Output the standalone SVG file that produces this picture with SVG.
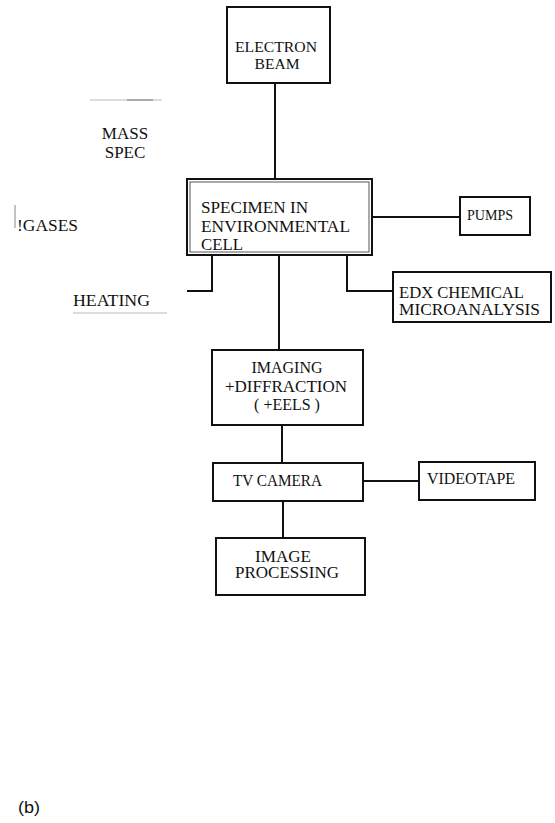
<svg xmlns="http://www.w3.org/2000/svg" width="555" height="823" viewBox="0 0 555 823">
<style>
.box{fill:#fff;stroke:#111;stroke-width:2}
.ln{fill:none;stroke:#111;stroke-width:2}
.faint{fill:none;stroke:#bbb;stroke-width:1}
text{font-family:"Liberation Serif","Times New Roman",serif;font-size:16px;fill:#111}
.c{text-anchor:middle}
.big{font-size:17px}
.sm{font-size:14.5px}
.eb{font-size:15px}
.sans{font-family:"Liberation Sans",Arial,sans-serif;font-size:17px}
</style>
<rect width="555" height="823" fill="#fff"/>
<g id="connectors">
<path class="ln" d="M275 83V179"/>
<path class="ln" d="M372 217H460"/>
<path class="ln" d="M212 255V291H187"/>
<path class="ln" d="M347 255V291H393"/>
<path class="ln" d="M279 255V350"/>
<path class="ln" d="M282 425V463"/>
<path class="ln" d="M363 481H419"/>
<path class="ln" d="M283 501V538"/>
</g>
<g id="marks">
<path class="faint" d="M90 100H162"/>
<path d="M127 100H153" stroke="#777" stroke-width="1"/>
<path d="M15 205V228" stroke="#888" stroke-width="1"/>
<path class="faint" d="M73 313H167"/>
</g>
<g id="electron-beam">
<rect class="box" x="227" y="7" width="103" height="76"/>
<text class="c eb" x="276" y="52" textLength="82" lengthAdjust="spacingAndGlyphs">ELECTRON</text>
<text class="c eb" x="277" y="69" textLength="45" lengthAdjust="spacingAndGlyphs">BEAM</text>
</g>
<g id="mass-spec">
<text class="c big" x="125" y="139">MASS</text>
<text class="c big" x="125" y="158">SPEC</text>
</g>
<g id="gases">
<text x="17" y="231" textLength="61" lengthAdjust="spacingAndGlyphs">!GASES</text>
</g>
<g id="specimen">
<rect class="box" x="187" y="179" width="185" height="76"/>
<rect x="190" y="182" width="179" height="70" fill="none" stroke="#555" stroke-width="1"/>
<text x="201" y="213" textLength="107" lengthAdjust="spacingAndGlyphs">SPECIMEN IN</text>
<text x="201" y="232" textLength="149" lengthAdjust="spacingAndGlyphs">ENVIRONMENTAL</text>
<text x="201" y="250" textLength="42" lengthAdjust="spacingAndGlyphs">CELL</text>
</g>
<g id="pumps">
<rect class="box" x="460" y="197" width="70" height="38"/>
<text class="sm" x="467" y="220" textLength="46" lengthAdjust="spacingAndGlyphs">PUMPS</text>
</g>
<g id="heating">
<text x="73" y="306" textLength="77" lengthAdjust="spacingAndGlyphs">HEATING</text>
</g>
<g id="edx">
<rect class="box" x="393" y="272" width="158" height="50"/>
<text x="399" y="298" textLength="125" lengthAdjust="spacingAndGlyphs">EDX CHEMICAL</text>
<text x="399" y="315" textLength="141" lengthAdjust="spacingAndGlyphs">MICROANALYSIS</text>
</g>
<g id="imaging">
<rect class="box" x="212" y="350" width="151" height="75"/>
<text class="c" x="287" y="373">IMAGING</text>
<text class="c" x="286" y="392" textLength="122" lengthAdjust="spacingAndGlyphs">+DIFFRACTION</text>
<text class="c" x="287" y="410">( +EELS )</text>
</g>
<g id="tv-camera">
<rect class="box" x="213" y="463" width="150" height="38"/>
<text x="233" y="486" textLength="89" lengthAdjust="spacingAndGlyphs">TV CAMERA</text>
</g>
<g id="videotape">
<rect class="box" x="419" y="462" width="116" height="38"/>
<text x="427" y="484" textLength="88" lengthAdjust="spacingAndGlyphs">VIDEOTAPE</text>
</g>
<g id="image-processing">
<rect class="box" x="216" y="538" width="149" height="57"/>
<text class="c" x="283" y="562" textLength="56" lengthAdjust="spacingAndGlyphs">IMAGE</text>
<text class="c" x="287" y="578" textLength="104" lengthAdjust="spacingAndGlyphs">PROCESSING</text>
</g>
<g id="label-b">
<text class="sans" x="18" y="813" textLength="22" lengthAdjust="spacingAndGlyphs">(b)</text>
</g>
</svg>
